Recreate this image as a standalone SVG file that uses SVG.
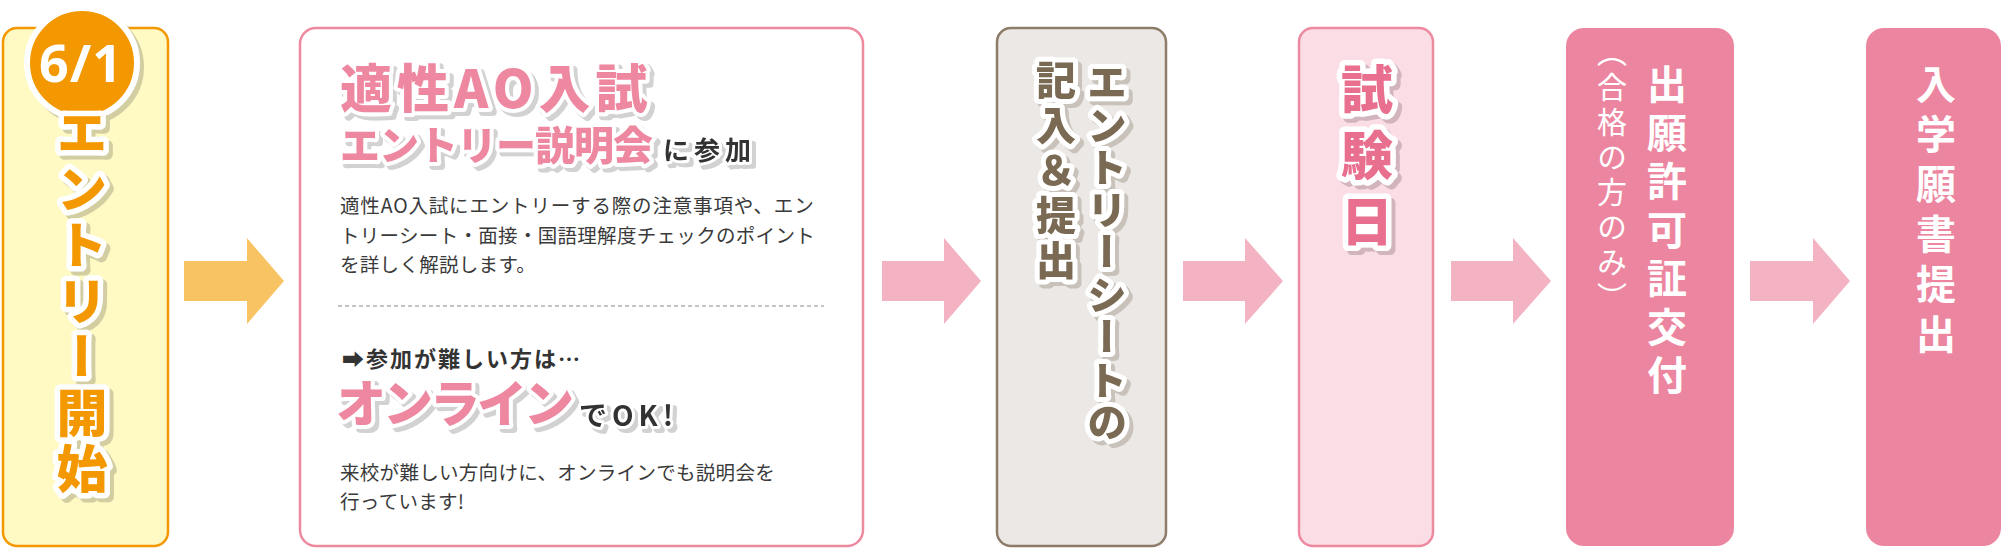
<svg xmlns="http://www.w3.org/2000/svg" width="2004" height="548" viewBox="0 0 2004 548">
<defs>
<style>
.jp{font-family:"Noto Sans CJK JP","Noto Sans CJK SC","DejaVu Sans",sans-serif}
.v{writing-mode:vertical-rl}
.b{font-weight:900}
.m{font-weight:700}
.ol{paint-order:stroke;stroke:#fff;stroke-linejoin:round}
.body{font-size:19.5px;fill:#3a3a3a;letter-spacing:0.3px}
.arrO{fill:#F8C463}
.arrP{fill:#F4B3C2}
</style>
<filter id="shY" x="-40%" y="-30%" width="180%" height="160%">
<feOffset in="SourceAlpha" dx="4" dy="4" result="o"/>
<feFlood flood-color="#d3cea2"/>
<feComposite in2="o" operator="in" result="s"/>
<feMerge><feMergeNode in="s"/><feMergeNode in="SourceGraphic"/></feMerge>
</filter>
<filter id="shG" x="-30%" y="-40%" width="160%" height="180%">
<feOffset in="SourceAlpha" dx="4" dy="4" result="o"/>
<feFlood flood-color="#d2d2d2"/>
<feComposite in2="o" operator="in" result="s"/>
<feMerge><feMergeNode in="s"/><feMergeNode in="SourceGraphic"/></feMerge>
</filter>
<filter id="shB" x="-40%" y="-30%" width="180%" height="160%">
<feOffset in="SourceAlpha" dx="4" dy="4" result="o"/>
<feFlood flood-color="#c8c2bb"/>
<feComposite in2="o" operator="in" result="s"/>
<feMerge><feMergeNode in="s"/><feMergeNode in="SourceGraphic"/></feMerge>
</filter>
<filter id="shP" x="-40%" y="-30%" width="180%" height="160%">
<feOffset in="SourceAlpha" dx="4" dy="4" result="o"/>
<feFlood flood-color="#d2b4bd"/>
<feComposite in2="o" operator="in" result="s"/>
<feMerge><feMergeNode in="s"/><feMergeNode in="SourceGraphic"/></feMerge>
</filter>
</defs>
<rect width="2004" height="548" fill="#fff"/>

<g id="connectors">
<polygon class="arrO" points="184,261 247,261 247,238 284,281 247,324 247,301 184,301"/>
<polygon class="arrP" points="882,261 944,261 944,238 981,281 944,324 944,301 882,301"/>
<polygon class="arrP" points="1183,261 1245,261 1245,238 1283,281 1245,324 1245,301 1183,301"/>
<polygon class="arrP" points="1451,261 1513,261 1513,238 1551,281 1513,324 1513,301 1451,301"/>
<polygon class="arrP" points="1750,261 1813,261 1813,238 1850,281 1813,324 1813,301 1750,301"/>
</g>

<g id="node-entry-start">
<rect x="3" y="28" width="165" height="518" rx="14" fill="#FFF9C3" stroke="#F39800" stroke-width="2.5"/>
<circle cx="82" cy="63" r="55" fill="#F39800" stroke="#fff" stroke-width="6" filter="url(#shY)"/>
<text x="81" y="82" text-anchor="middle" font-family="'Noto Sans',Roboto,sans-serif" font-weight="700" font-size="52" letter-spacing="1" fill="#fff">6/1</text>
<text class="jp v b ol" x="82" y="107" font-size="51" letter-spacing="5" fill="#F39800" stroke-width="11" filter="url(#shY)">エントリー開始</text>
</g>

<g id="node-briefing">
<rect x="300" y="28" width="563" height="518" rx="16" fill="#fff" stroke="#EE8AA0" stroke-width="2.5"/>
<text class="jp b ol" x="340" y="108" font-size="52" letter-spacing="5" fill="#EE88A0" stroke-width="8" filter="url(#shG)">適性AO入試</text>
<text class="jp b ol" x="340" y="160" font-size="40" letter-spacing="-1" fill="#EE88A0" stroke-width="8" filter="url(#shG)">エントリー説明会</text>
<text class="jp m ol" x="663" y="160" font-size="26" letter-spacing="5" fill="#333" stroke-width="6" filter="url(#shG)">に参加</text>
<text class="jp body" x="340" y="213" textLength="474" lengthAdjust="spacing">適性AO入試にエントリーする際の注意事項や、エン</text>
<text class="jp body" x="340" y="243" textLength="475" lengthAdjust="spacing">トリーシート・面接・国語理解度チェックのポイント</text>
<text class="jp body" x="340" y="272">を詳しく解説します。</text>
<line x1="338" y1="306" x2="824" y2="306" stroke="#888" stroke-width="1" stroke-dasharray="4 3"/>
<text class="jp m" x="342" y="367" font-size="22" letter-spacing="2" fill="#333">➡参加が難しい方は…</text>
<text class="jp b ol" x="336" y="422" font-size="50" letter-spacing="-3" fill="#EE88A0" stroke-width="8" filter="url(#shG)">オンライン</text>
<text class="jp m ol" x="579" y="426" font-size="28" letter-spacing="5" fill="#333" stroke-width="6" filter="url(#shG)">でOK!</text>
<text class="jp body" x="340" y="480" letter-spacing="1.5">来校が難しい方向けに、オンラインでも説明会を</text>
<text class="jp body" x="340" y="509" letter-spacing="1.5">行っています!</text>
</g>

<g id="node-entry-sheet">
<rect x="997" y="28" width="169" height="518" rx="14" fill="#ECE8E5" stroke="#8C7C68" stroke-width="2.5"/>
<text class="jp v b ol" x="1107" y="62" font-size="40" letter-spacing="2.5" fill="#7A6A53" stroke-width="10" filter="url(#shB)">エントリーシートの</text>
<text class="jp v b ol" x="1056" y="60" font-size="40" letter-spacing="5" fill="#7A6A53" stroke-width="10" filter="url(#shB)">記入＆提出</text>
</g>

<g id="node-exam">
<rect x="1299" y="28" width="134" height="518" rx="14" fill="#FBDDE5" stroke="#EE8AA0" stroke-width="2.5"/>
<text class="jp v b ol" x="1367" y="63" font-size="52" letter-spacing="14" fill="#E8708E" stroke-width="11" filter="url(#shP)">試験日</text>
</g>

<g id="node-permit">
<rect x="1566" y="28" width="168" height="518" rx="18" fill="#EC86A0"/>
<text class="jp v m" x="1667" y="64" font-size="40" letter-spacing="8.5" fill="#fff">出願許可証交付</text>
<text class="jp v" x="1612" y="52" font-size="30" letter-spacing="5" fill="#fff" style="font-feature-settings:'vhal'">（合格の方のみ）</text>
</g>

<g id="node-application">
<rect x="1866" y="28" width="135" height="518" rx="18" fill="#EC86A0"/>
<text class="jp v m" x="1936" y="64" font-size="40" letter-spacing="10" fill="#fff">入学願書提出</text>
</g>
</svg>
